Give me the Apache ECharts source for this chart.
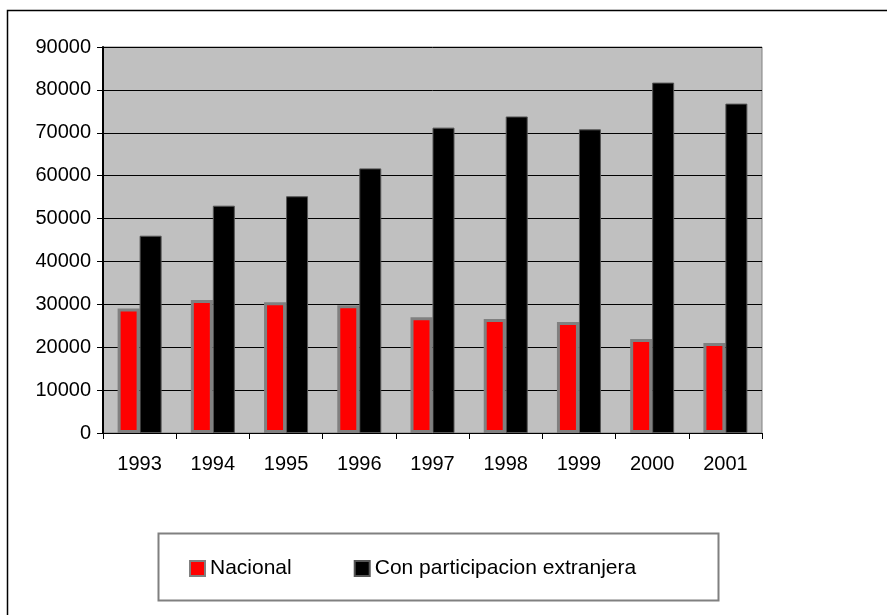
<!DOCTYPE html>
<html>
<head>
<meta charset="utf-8">
<script src="https://cdn.jsdelivr.net/npm/echarts@6/dist/echarts.min.js"></script>
<style>
html,body{margin:0;padding:0;background:#fff;}
#chart{width:887px;height:615px;}
</style>
</head>
<body>
<div id="chart"></div>
<script>
const categories = ['1993','1994','1995','1996','1997','1998','1999','2000','2001'];
const nacional = [29000, 31000, 30500, 29800, 27000, 26600, 25900, 21900, 21000];
const extranjera = [46000, 53000, 55200, 61700, 71200, 73800, 70800, 81700, 76800];
const seriesNames = ['Nacional', 'Con participacion extranjera'];

const FONT = '"Liberation Sans", Arial, sans-serif';
const chart = echarts.init(document.getElementById('chart'), null, {renderer: 'canvas'});
chart.setOption({
  animation: false,
  backgroundColor: '#ffffff',
  grid: {
    left: 103, right: 125, top: 47, bottom: 182,
    show: true, backgroundColor: '#C0C0C0', borderColor: '#808080', borderWidth: 1,
    containLabel: false
  },
  xAxis: {
    type: 'category',
    data: categories,
    boundaryGap: true,
    axisLine: {show: true, lineStyle: {color: '#000', width: 1}},
    axisTick: {show: true, length: 6, inside: false, lineStyle: {color: '#000'}},
    axisLabel: {fontFamily: FONT, fontSize: 20, color: '#000', margin: 21},
    splitLine: {show: false}
  },
  yAxis: {
    type: 'value',
    min: 0, max: 90000, interval: 10000,
    axisLine: {show: true, lineStyle: {color: '#000', width: 2}},
    axisTick: {show: true, length: 6, lineStyle: {color: '#000'}},
    axisLabel: {fontFamily: FONT, fontSize: 20, color: '#000', margin: 12,
                formatter: function (v) { return String(v); }},
    splitLine: {show: true, lineStyle: {color: '#000', width: 1}}
  },
  legend: {
    left: 184, top: 553,
    itemWidth: 15, itemHeight: 15, itemGap: 62,
    icon: 'rect',
    textStyle: {fontFamily: FONT, fontSize: 21, color: '#000'},
    data: seriesNames
  },
  graphic: [
    {type: 'rect', silent: true, z: -1,
     shape: {x: 7.5, y: 10.5, width: 1000, height: 1000},
     style: {fill: 'none', stroke: '#000', lineWidth: 1.5}},
    {type: 'rect', silent: true, z: -1,
     shape: {x: 158.5, y: 533.5, width: 560, height: 67},
     style: {fill: '#fff', stroke: '#808080', lineWidth: 2}}
  ],
  series: [
    {
      name: seriesNames[0], type: 'bar', data: nacional,
      barWidth: 22, barGap: '0%',
      itemStyle: {color: '#FF0000', borderColor: '#808080', borderWidth: 3}
    },
    {
      name: seriesNames[1], type: 'bar', data: extranjera,
      barWidth: 22, barGap: '0%',
      itemStyle: {color: '#000000', borderColor: '#555555', borderWidth: 1}
    }
  ]
});
</script>
</body>
</html>
